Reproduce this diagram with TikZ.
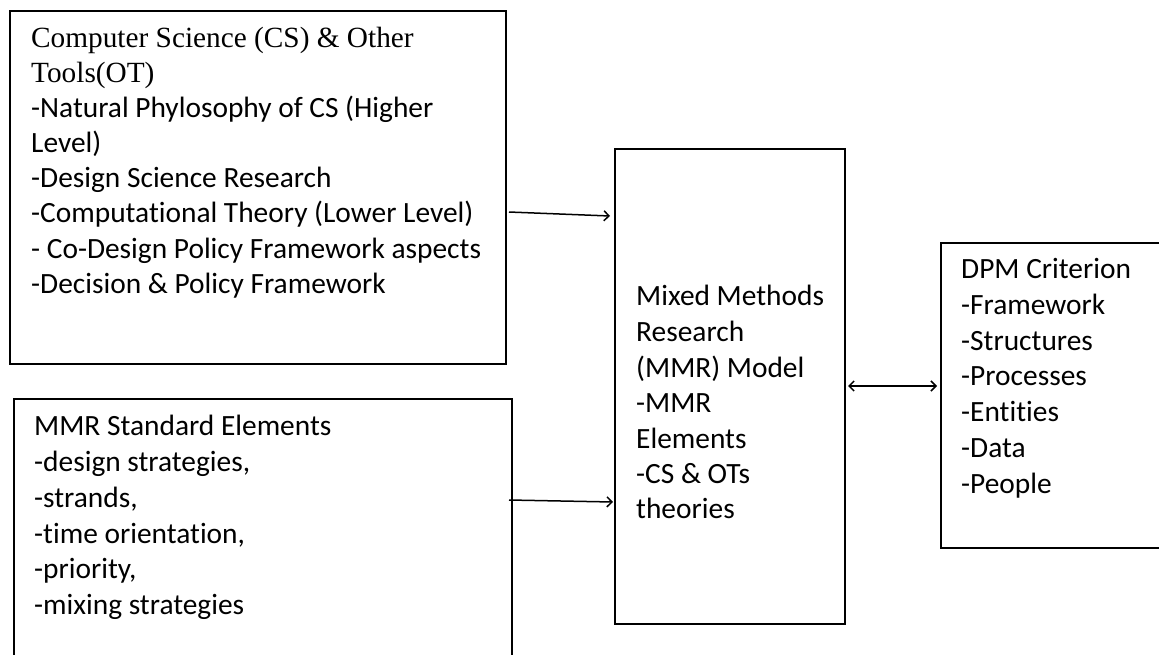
\documentclass[tikz,border=0pt]{standalone}
\usepackage{fontspec}
\setmainfont[Ligatures=NoCommon]{Carlito}
\newfontfamily\timesfont{Liberation Serif}
\usetikzlibrary{arrows.meta}
\begin{document}
\begin{tikzpicture}[x=1pt,y=-1pt,
  box/.style={draw=black,line width=2pt,anchor=north west,inner sep=0pt,rectangle},
  txt/.style={anchor=base west,inner sep=0pt,font=\fontsize{29.4}{34}\selectfont},
  ttxt/.style={anchor=base west,inner sep=0pt,font=\timesfont\fontsize{29.3}{34}\selectfont},
  conn/.style={line width=1.5pt,-{Straight Barb[length=5pt,width=10pt,line width=1.5pt]}},
  dconn/.style={line width=1.5pt,{Straight Barb[length=5pt,width=10pt,line width=1.5pt]}-{Straight Barb[length=5pt,width=10pt,line width=1.5pt]}}]
\useasboundingbox (0,0) rectangle (1159,654);
\clip (0,0) rectangle (1159,654);
% boxes
\node[box,minimum width=496pt,minimum height=353pt] (cs) at (9,10) {};
\node[box,minimum width=498pt,minimum height=280pt] (mmrse) at (13,398) {};
\node[box,minimum width=230pt,minimum height=475pt] (mmr) at (614,148) {};
\node[box,minimum width=240pt,minimum height=305pt] (dpm) at (940,242) {};
% box 1 text
\node[ttxt] (cs1) at (31,47) {Computer Science (CS) \& Other};
\node[ttxt] (cs2) at (31,82) {Tools(OT)};
\node[txt] (cs3) at (31,117) {-Natural Phylosophy of CS (Higher};
\node[txt] (cs4) at (31,152) {Level)};
\node[txt] (cs5) at (31,187) {-Design Science Research};
\node[txt] (cs6) at (31,222) {-Computational Theory (Lower Level)};
\node[txt] (cs7) at (31,258) {- Co-Design Policy Framework aspects};
\node[txt] (cs8) at (31,293) {-Decision \& Policy Framework};
% box 2 text
\node[txt] (se1) at (34,435) {MMR Standard Elements};
\node[txt] (se2) at (34,471) {-design strategies,};
\node[txt] (se3) at (34,507) {-strands,};
\node[txt] (se4) at (34,543) {-time orientation,};
\node[txt] (se5) at (34,578) {-priority,};
\node[txt] (se6) at (34,614) {-mixing strategies};
% middle text
\node[txt] (m1) at (636,305) {Mixed Methods};
\node[txt] (m2) at (636,341) {Research};
\node[txt] (m3) at (636,377) {(MMR) Model};
\node[txt] (m4) at (636,412) {-MMR};
\node[txt] (m5) at (636,448) {Elements};
\node[txt] (m6) at (636,483) {-CS \& OTs};
\node[txt] (m7) at (636,518) {theories};
% DPM text
\node[txt] (d1) at (961,278) {DPM Criterion};
\node[txt] (d2) at (961,314) {-Framework};
\node[txt] (d3) at (961,350) {-Structures};
\node[txt] (d4) at (961,385) {-Processes};
\node[txt] (d5) at (961,421) {-Entities};
\node[txt] (d6) at (961,457) {-Data};
\node[txt] (d7) at (961,493) {-People};
% connectors
\coordinate (a1s) at (509,212);
\coordinate (a1e) at (610,216);
\coordinate (a2s) at (509,500);
\coordinate (a2e) at (613,502);
\coordinate (a3s) at (848,386);
\coordinate (a3e) at (937,386);
\draw[conn] (a1s) -- (a1e);
\draw[conn] (a2s) -- (a2e);
\draw[dconn] (a3s) -- (a3e);
\end{tikzpicture}
\end{document}
